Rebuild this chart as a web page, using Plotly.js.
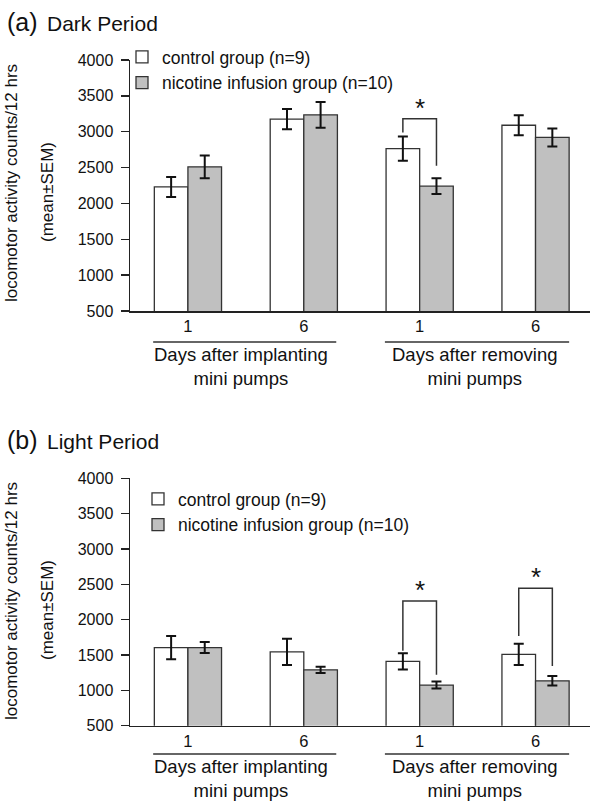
<!DOCTYPE html>
<html>
<head>
<meta charset="utf-8">
<script src="https://cdn.plot.ly/plotly-3.0.1.min.js"></script>
<style>
  html, body { margin: 0; padding: 0; background: #fff; }
  #chart { width: 590px; height: 803px; }
</style>
</head>
<body>
<div id="chart"></div>
<script>
// ---------------- data ----------------
const groupIndex = [0, 1, 2, 3];
const dayLabels = ['1', '6', '1', '6'];
const phaseLabels = ['Days after implanting<br>mini pumps', 'Days after removing<br>mini pumps'];
const seriesNames = ['control group (n=9)', 'nicotine infusion group (n=10)'];
const yTicks = [500, 1000, 1500, 2000, 2500, 3000, 3500, 4000];

// (a) Dark period
const darkControl = [2230, 3175, 2765, 3090];
const darkControlSEM = [140, 140, 170, 140];
const darkNicotine = [2510, 3235, 2240, 2920];
const darkNicotineSEM = [160, 180, 110, 125];
const darkSignificant = [false, false, true, false];

// (b) Light period
const lightControl = [1605, 1545, 1410, 1510];
const lightControlSEM = [165, 185, 115, 150];
const lightNicotine = [1605, 1290, 1075, 1135];
const lightNicotineSEM = [78, 45, 50, 68];
const lightSignificant = [false, false, true, true];

// ---------------- layout helpers ----------------
const W = 590, H = 803, ML = 130, MR = 0;
const PW = W - ML - MR;
const px2x = p => (p - ML) / PW;
const py2y = p => 1 - p / H;
const FONT = 'Liberation Sans, Arial, Helvetica, sans-serif';
const bargap = 0.42;
const halfBar = (1 - bargap) / 4;

// bracket heights (annotation layout, in y units) for significant groups
const bracketLevels = {
  dark: { 2: { left: 2990, right: 2525, top: 3180 } },
  light: { 2: { left: 1560, right: 1220, top: 2265 }, 3: { left: 1770, right: 1345, top: 2445 } }
};

const barLine = { color: '#333', width: 1.3 };
const errStyle = { type: 'data', color: '#111', thickness: 2, width: 5 };

function bars(y, err, name, fill, xa, ya, legendId) {
  return {
    type: 'bar', x: groupIndex, y: y, name: name,
    xaxis: xa, yaxis: ya, legend: legendId, showlegend: true,
    marker: { color: fill, line: barLine },
    error_y: Object.assign({ array: err }, errStyle),
    hoverinfo: 'y'
  };
}

const traces = [
  bars(darkControl, darkControlSEM, seriesNames[0], '#ffffff', 'x', 'y', 'legend'),
  bars(darkNicotine, darkNicotineSEM, seriesNames[1], '#c0c0c0', 'x', 'y', 'legend'),
  bars(lightControl, lightControlSEM, seriesNames[0], '#ffffff', 'x2', 'y2', 'legend2'),
  bars(lightNicotine, lightNicotineSEM, seriesNames[1], '#c0c0c0', 'x2', 'y2', 'legend2')
];

function xAxis(anchor) {
  return {
    anchor: anchor, range: [-0.5, 3.47], tickvals: groupIndex, ticktext: dayLabels,
    showline: true, linecolor: '#222', linewidth: 1.5, ticks: '',
    showgrid: false, zeroline: false, fixedrange: true,
    tickfont: { size: 16.5, color: '#111', family: FONT }
  };
}
function yAxis(anchor, domain) {
  return {
    anchor: anchor, domain: domain, range: [500, 4000], tickvals: yTicks,
    showline: true, linecolor: '#222', linewidth: 1.5,
    ticks: 'outside', ticklen: 8, tickwidth: 1.5, tickcolor: '#222',
    ticklabelstandoff: 4,
    showgrid: false, zeroline: false, fixedrange: true,
    tickfont: { size: 16, color: '#111', family: FONT }
  };
}

const shapes = [];
const annotations = [];

function panel(xa, ya, offsetPx, axisOffsetPx, letter, period, sigFlags, levels) {
  // title
  annotations.push({ xref: 'paper', yref: 'paper', x: px2x(5), y: py2y(22 + offsetPx),
    xanchor: 'left', yanchor: 'middle', showarrow: false, text: letter,
    font: { size: 25, color: '#111', family: FONT } });
  annotations.push({ xref: 'paper', yref: 'paper', x: px2x(45), y: py2y(23 + offsetPx),
    xanchor: 'left', yanchor: 'middle', showarrow: false, text: period,
    font: { size: 21, color: '#111', family: FONT } });
  // y titles
  annotations.push({ xref: 'paper', yref: 'paper', x: px2x(11), y: py2y(183 + offsetPx),
    xanchor: 'center', yanchor: 'middle', showarrow: false, textangle: -90,
    text: 'locomotor activity counts/12 hrs', font: { size: 17, color: '#111', family: FONT } });
  annotations.push({ xref: 'paper', yref: 'paper', x: px2x(47), y: py2y(192 + offsetPx),
    xanchor: 'center', yanchor: 'middle', showarrow: false, textangle: -90,
    text: '(mean\u00B1SEM)', font: { size: 17, color: '#111', family: FONT } });
  // phase groups under axis
  const spans = [[-0.3, 1.28, 0.46], [1.7, 3.29, 2.48]];
  spans.forEach((s, i) => {
    shapes.push({ type: 'line', xref: xa, yref: 'paper', x0: s[0], x1: s[1],
      y0: py2y(342 + axisOffsetPx), y1: py2y(342 + axisOffsetPx), line: { color: '#333', width: 1.5 } });
    annotations.push({ xref: xa, yref: 'paper', x: s[2], y: py2y(342 + axisOffsetPx),
      xanchor: 'center', yanchor: 'top', showarrow: false, text: phaseLabels[i],
      font: { size: 18.5, color: '#111', family: FONT } });
  });
  // significance brackets
  sigFlags.forEach((sig, g) => {
    if (!sig) return;
    const L = levels[g];
    shapes.push({ type: 'path', xref: xa, yref: ya,
      path: `M ${g - halfBar},${L.left} L ${g - halfBar},${L.top} L ${g + halfBar},${L.top} L ${g + halfBar},${L.right}`,
      line: { color: '#333', width: 1.5 } });
    annotations.push({ xref: xa, yref: ya, x: g, y: L.top, xanchor: 'center', yanchor: 'bottom',
      yshift: -6, showarrow: false, text: '*', font: { size: 26, color: '#111', family: FONT } });
  });
}

panel('x', 'y', 0, 0, '(a)', 'Dark Period', darkSignificant, bracketLevels.dark);
panel('x2', 'y2', 418, 412, '(b)', 'Light Period', lightSignificant, bracketLevels.light);

const legendFont = { size: 17.5, color: '#111', family: FONT };
const layout = {
  width: W, height: H,
  margin: { l: ML, r: MR, t: 0, b: 0, pad: 0 },
  paper_bgcolor: '#fff', plot_bgcolor: '#fff',
  font: { family: FONT, color: '#111' },
  barmode: 'group', bargap: bargap, bargroupgap: 0,
  xaxis: xAxis('y'), yaxis: yAxis('x', [py2y(311), py2y(60)]),
  xaxis2: xAxis('y2'), yaxis2: yAxis('x2', [py2y(725.7), py2y(478.3)]),
  legend: { x: px2x(122), y: py2y(39), xanchor: 'left', yanchor: 'top',
    bgcolor: 'rgba(0,0,0,0)', font: legendFont, tracegroupgap: 0 },
  legend2: { x: px2x(138), y: py2y(481), xanchor: 'left', yanchor: 'top',
    bgcolor: 'rgba(0,0,0,0)', font: legendFont, tracegroupgap: 0 },
  shapes: shapes, annotations: annotations,
  showlegend: true
};

Plotly.newPlot('chart', traces, layout, { staticPlot: true, displayModeBar: false });
</script>
</body>
</html>
